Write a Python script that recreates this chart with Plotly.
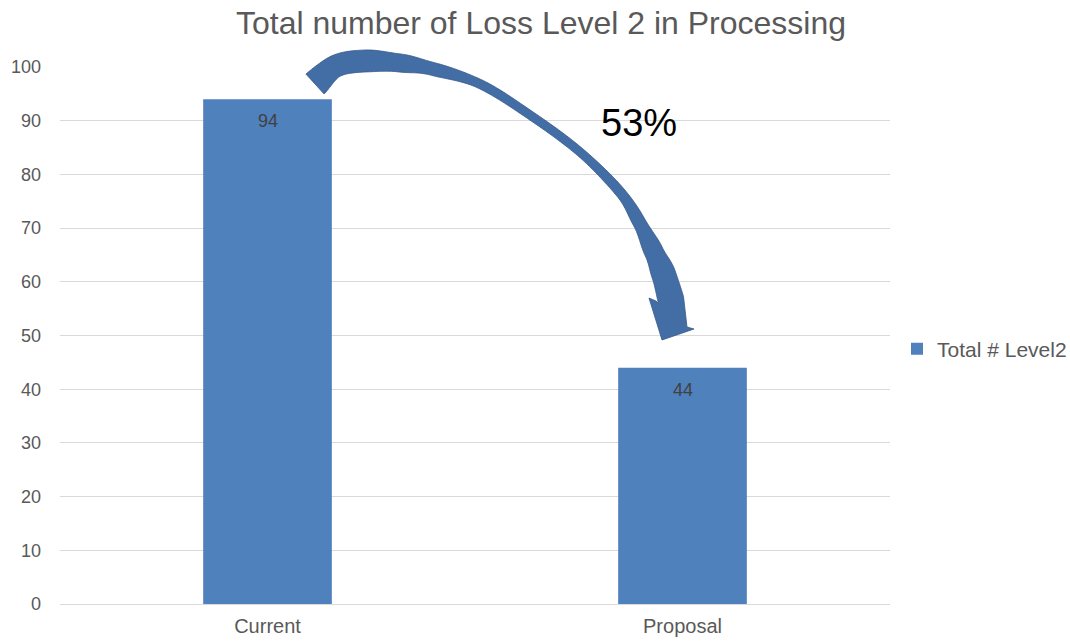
import math
import plotly.graph_objects as go

# ---- data ----
categories = ["Current", "Proposal"]
values = [94, 44]
series_name = "Total # Level2"
title_text = "Total number of Loss Level 2 in Processing"
change_label = "53%"
y_ticks = list(range(0, 101, 10))

# ---- layout geometry (pixels) ----
W, H = 1070, 641
L, R, T, B = 60, 180, 67, 37
PW, PH = W - L - R, H - T - B


def px2paper(x, y):
    return (x - L) / PW, (H - B - y) / PH


# ---- decorative curved arrow: centreline (pixels) + ribbon width ----
arrow_center = [(315, 84), (336, 66), (365, 61), (400, 63), (433, 69), (480, 84),
                (530, 115), (580, 152), (620, 192), (639, 222), (653.5, 251),
                (663.5, 274), (671, 300)]
arrow_width = [27, 22, 22, 18, 13, 9, 8.5, 8.5, 10, 13, 19, 24, 26]
arrow_head = [(687, 327), (694, 329), (662, 340), (649, 298), (656, 301)]


def catmull(pts, widths, steps=14):
    out = []
    n = len(pts)
    for i in range(n - 1):
        p0 = pts[i - 1] if i > 0 else pts[i]
        p1, p2 = pts[i], pts[i + 1]
        p3 = pts[i + 2] if i + 2 < n else pts[i + 1]
        for s in range(steps):
            t = s / steps
            t2, t3 = t * t, t * t * t
            x = 0.5 * ((2 * p1[0]) + (-p0[0] + p2[0]) * t + (2 * p0[0] - 5 * p1[0] + 4 * p2[0] - p3[0]) * t2
                       + (-p0[0] + 3 * p1[0] - 3 * p2[0] + p3[0]) * t3)
            y = 0.5 * ((2 * p1[1]) + (-p0[1] + p2[1]) * t + (2 * p0[1] - 5 * p1[1] + 4 * p2[1] - p3[1]) * t2
                       + (-p0[1] + 3 * p1[1] - 3 * p2[1] + p3[1]) * t3)
            u = (1 - math.cos(math.pi * t)) / 2
            w = widths[i] + (widths[i + 1] - widths[i]) * u
            out.append((x, y, w))
    out.append((pts[-1][0], pts[-1][1], widths[-1]))
    return out


samples = catmull(arrow_center, arrow_width)
outer, inner = [], []
for k, (x, y, w) in enumerate(samples):
    a = samples[max(k - 1, 0)]
    b = samples[min(k + 1, len(samples) - 1)]
    dx, dy = b[0] - a[0], b[1] - a[1]
    ln = math.hypot(dx, dy) or 1.0
    nx, ny = dy / ln, -dx / ln
    outer.append((x + nx * w / 2, y + ny * w / 2))
    inner.append((x - nx * w / 2, y - ny * w / 2))

outline = outer + arrow_head + inner[::-1]
path = ""
for j, (x, y) in enumerate(outline):
    px, py = px2paper(x, y)
    path += ("M" if j == 0 else " L") + f"{px:.5f},{py:.5f}"
path += " Z"

FONT = "Liberation Sans, Arial, sans-serif"
GREY = "#595959"

fig = go.Figure()
fig.add_trace(go.Bar(
    x=categories, y=values, name=series_name,
    marker=dict(color="#4f81bd", line=dict(width=0)),
    width=0.31, showlegend=True,
    hoverinfo="x+y",
))

annotations = []
for c, v in zip(categories, values):
    annotations.append(dict(x=c, y=v, xref="x", yref="y", text=str(v), showarrow=False,
                            yshift=-22, font=dict(size=18, color="#404040", family=FONT)))
lx, ly = px2paper(639, 123)
annotations.append(dict(x=lx, y=ly, xref="paper", yref="paper", text=change_label,
                        xanchor="center", yanchor="middle",
                        showarrow=False, font=dict(size=38, color="#000000", family=FONT)))

fig.update_layout(
    width=W, height=H,
    margin=dict(l=L, r=R, t=T, b=B, autoexpand=False),
    paper_bgcolor="white", plot_bgcolor="white",
    title=dict(text=title_text, x=541 / W, xanchor="center", xref="container",
               y=1 - 23 / H, yanchor="middle", yref="container",
               font=dict(size=32, color=GREY, family=FONT)),
    xaxis=dict(showgrid=False, showline=False, zeroline=False, ticks="",
               tickfont=dict(size=20, color=GREY, family=FONT),
               ticklabelstandoff=8, automargin=False),
    yaxis=dict(range=[0, 100], tickvals=y_ticks, showgrid=True, gridcolor="#d9d9d9",
               gridwidth=1, zeroline=True, zerolinecolor="#d9d9d9", zerolinewidth=1,
               showline=False, ticks="", tickfont=dict(size=18, color=GREY, family=FONT),
               ticklabelstandoff=18, automargin=False),
    legend=dict(x=897 / W, xref="container", y=1 - 349 / H, yref="container",
                yanchor="middle", xanchor="left", bgcolor="rgba(0,0,0,0)",
                font=dict(size=21, color=GREY, family=FONT)),
    shapes=[dict(type="path", path=path, xref="paper", yref="paper",
                 fillcolor="#426ea5", line=dict(color="#36598a", width=0.8), layer="above")],
    annotations=annotations,
    bargap=0.69,
)

fig.write_html("out.html")
